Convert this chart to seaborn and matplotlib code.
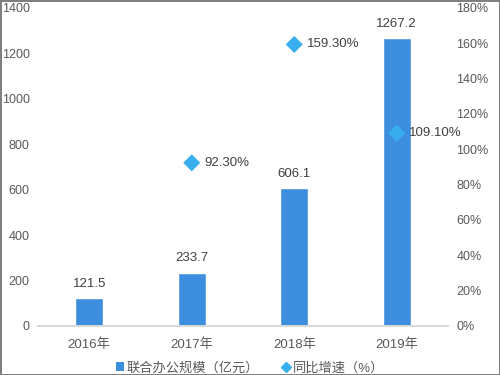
import matplotlib
matplotlib.use("Agg")
import matplotlib.pyplot as plt
import pandas as pd
import seaborn as sns
from matplotlib.lines import Line2D
from matplotlib.patches import Patch

years = ["2016年", "2017年", "2018年", "2019年"]
scale = [121.5, 233.7, 606.1, 1267.2]
growth_years = ["2017年", "2018年", "2019年"]
growth = [92.30, 159.30, 109.10]

bar_label = "联合办公规模（亿元）"
growth_label = "同比增速（%）"

bar_color = "#3E8EE0"
dot_color = "#38AEEE"
text_color = "#595959"

sns.set_theme(style="white")
plt.rcParams["font.family"] = ["Liberation Sans", "Noto Sans CJK SC", "DejaVu Sans"]

df_bar = pd.DataFrame({"year": years, "scale": scale})
df_growth = pd.DataFrame({"year": growth_years, "growth": growth})
df_growth["pos"] = [years.index(y) for y in growth_years]

fig = plt.figure(figsize=(5, 3.75), dpi=100)
fig.patch.set_edgecolor("#7f7f7f")
fig.patch.set_linewidth(2)
ax = fig.add_axes([0.076, 0.131, 0.82, 0.848])

sns.barplot(data=df_bar, x="year", y="scale", color=bar_color,
            width=0.27, saturation=1, ax=ax)
ax.set_ylim(0, 1400)
ax.set_yticks(range(0, 1401, 200))
ax.set_xlim(-0.5, 3.5)
ax.set_xlabel("")
ax.set_ylabel("")
for i, v in enumerate(scale):
    ax.annotate(f"{v}", (i, v), xytext=(0, 6), textcoords="offset points",
                ha="center", va="bottom", fontsize=9.5, color="#404040")

ax2 = ax.twinx()
sns.scatterplot(data=df_growth, x="pos", y="growth", marker="D", s=75,
                color=dot_color, edgecolor="none", ax=ax2, zorder=3)
ax2.set_ylim(0, 180)
ax2.set_yticks(range(0, 181, 20))
ax2.set_yticklabels([f"{t}%" for t in range(0, 181, 20)])
ax2.set_ylabel("")
ax2.set_xlabel("")
for x, v in zip(df_growth["pos"], growth):
    ax2.annotate(f"{v:.2f}%", (x, v), xytext=(9, 0), textcoords="offset points",
                 ha="left", va="center", fontsize=9.5, color="#404040")

for a in (ax, ax2):
    for side in ("top", "left", "right"):
        a.spines[side].set_visible(False)
    a.spines["bottom"].set_color("#d9d9d9")
    a.tick_params(length=0, colors=text_color, labelsize=9)
ax.tick_params(axis="x", labelsize=9.5, pad=9)
ax.tick_params(axis="y", pad=6)
ax2.tick_params(axis="y", pad=6)

handles = [
    Patch(facecolor=bar_color, edgecolor="none", label=bar_label),
    Line2D([], [], marker="D", color=dot_color, linestyle="none",
           markersize=5, label=growth_label),
]
fig.legend(handles=handles, loc="lower center", bbox_to_anchor=(0.5, -0.03),
           ncol=2, frameon=False, fontsize=9.5, handlelength=0.6,
           handletextpad=0.2, columnspacing=1.8, labelcolor=text_color)

fig.savefig("out.png", dpi=100)
